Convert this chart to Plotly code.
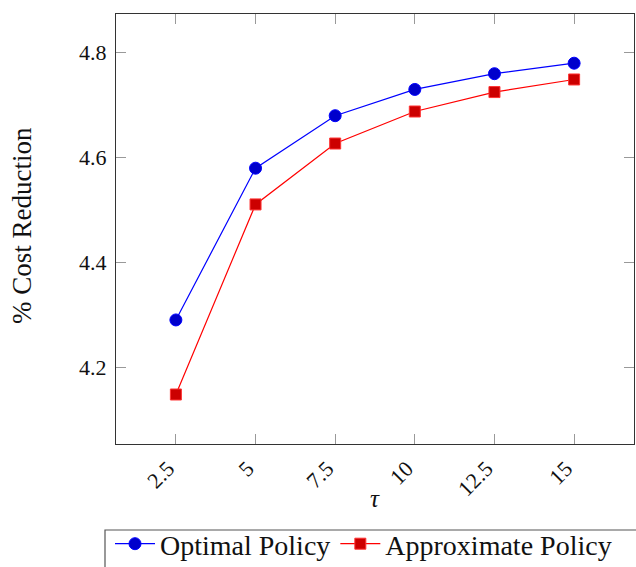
import plotly.graph_objects as go

# Horizon values and % cost reduction for each policy
tau = [2.5, 5, 7.5, 10, 12.5, 15]
tau_labels = ["2.5", "5", "7.5", "10", "12.5", "15"]
y_ticks = [4.2, 4.4, 4.6, 4.8]
y_tick_labels = ["4.2", "4.4", "4.6", "4.8"]
optimal = [4.291, 4.58, 4.68, 4.73, 4.76, 4.78]
approximate = [4.149, 4.511, 4.627, 4.688, 4.725, 4.749]

FONT = "Liberation Serif, serif"
W, H = 636, 567
ML, MR, MT, MB = 116, 2, 14, 123
plot_w = W - ML - MR
plot_h = H - MT - MB


def px_x(px):
    return (px - ML) / plot_w


def px_y(py):
    return (H - MB - py) / plot_h


fig = go.Figure()
fig.add_trace(go.Scatter(
    x=tau, y=optimal, mode="lines+markers", name="Optimal Policy",
    line=dict(color="#0000ff", width=1.2),
    marker=dict(symbol="circle", size=12, color="#0000cc",
                line=dict(color="#0000ff", width=1)),
))
fig.add_trace(go.Scatter(
    x=tau, y=approximate, mode="lines+markers", name="Approximate Policy",
    line=dict(color="#ff0000", width=1.2),
    marker=dict(symbol="square", size=11, color="#cc0000",
                line=dict(color="#ff3333", width=1)),
))

axis_common = dict(
    showgrid=False, zeroline=False, showline=True, linecolor="#333333",
    linewidth=1.3, mirror="ticks", ticks="inside", ticklen=10,
    tickcolor="#999999", tickwidth=1.2, automargin=False,
    tickfont=dict(family=FONT, size=22, color="#111111"),
)

fig.update_layout(
    width=W, height=H,
    margin=dict(l=ML, r=MR, t=MT, b=MB, autoexpand=False),
    paper_bgcolor="white", plot_bgcolor="white",
    font=dict(family=FONT, color="#111111"),
    xaxis=dict(
        **axis_common, range=[0.62, 16.88], tickmode="array",
        tickvals=tau, ticktext=tau_labels, tickangle=-45,
        ticklabelshift=-8, ticklabelstandoff=2,
    ),
    yaxis=dict(
        **axis_common, range=[4.0547, 4.8737], tickmode="array",
        tickvals=y_ticks, ticktext=y_tick_labels,
        ticklabelstandoff=4,
    ),
    legend=dict(
        orientation="h", x=px_x(110), xanchor="left",
        y=px_y(519), yanchor="top", borderwidth=0,
        bgcolor="rgba(0,0,0,0)",
        font=dict(family=FONT, size=28, color="#111111"),
        itemwidth=40, tracegroupgap=0,
    ),
    shapes=[
        # legend frame, running past the lower and right page edges
        dict(type="rect", xref="paper", yref="paper",
             x0=px_x(105), x1=px_x(645), y0=px_y(530), y1=px_y(580),
             line=dict(color="#555555", width=1.2), fillcolor="rgba(0,0,0,0)",
             layer="below"),
    ],
    annotations=[
        dict(text="<i>τ</i>", xref="paper", yref="paper",
             x=0.5, y=px_y(498), xanchor="center", yanchor="middle",
             showarrow=False, font=dict(family=FONT, size=25)),
        dict(text="% Cost Reduction", textangle=-90, xref="paper", yref="paper",
             x=px_x(22), y=px_y(226), xanchor="center", yanchor="middle",
             showarrow=False, font=dict(family=FONT, size=27)),
    ],
)

fig.write_html("out.html")
